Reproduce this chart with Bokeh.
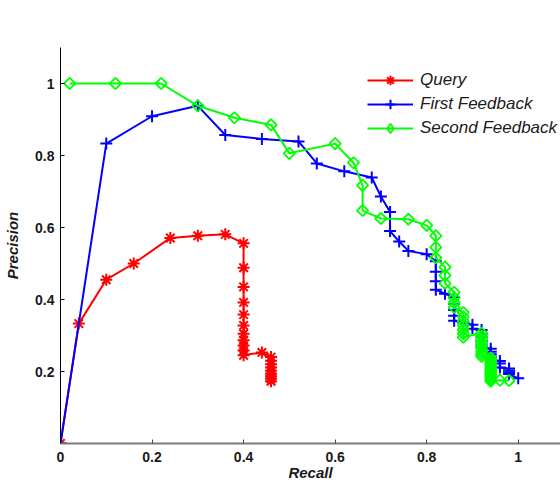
import math
from bokeh.plotting import figure
from bokeh.models import FixedTicker, Legend, LegendItem, CustomJSTickFormatter
from bokeh.embed import file_html
from bokeh.resources import INLINE

# ---- data ----
query_recall = [0, 0.04, 0.10, 0.16, 0.24, 0.30, 0.36, 0.40,
                0.40, 0.40, 0.40, 0.40, 0.40, 0.40, 0.40, 0.40, 0.40, 0.40,
                0.44,
                0.46, 0.46, 0.46, 0.46, 0.46, 0.46, 0.46, 0.46, 0.46]
query_precision = [0, 0.333, 0.455, 0.500, 0.571, 0.577, 0.581, 0.556,
                   0.488, 0.435, 0.392, 0.358, 0.328, 0.305, 0.287, 0.272, 0.258, 0.245,
                   0.253,
                   0.240, 0.230, 0.220, 0.211, 0.202, 0.194, 0.187, 0.180, 0.173]

first_recall = [0, 0.10, 0.20, 0.30, 0.36, 0.44, 0.52, 0.56, 0.62, 0.68, 0.70, 0.72, 0.72,
                0.74, 0.76, 0.80, 0.82, 0.82, 0.82, 0.82, 0.84, 0.86, 0.86, 0.86, 0.86, 0.86,
                0.88, 0.90, 0.90, 0.92, 0.92, 0.92, 0.92, 0.92, 0.92, 0.94, 0.94, 0.94, 0.94,
                0.94, 0.96, 0.96, 0.96, 0.98, 0.98, 0.98, 0.98, 1.00]
first_precision = [0, 0.833, 0.909, 0.938, 0.857, 0.846, 0.839, 0.778, 0.756, 0.739, 0.686, 0.643, 0.590,
                   0.561, 0.535, 0.526, 0.506, 0.477, 0.451, 0.427, 0.416, 0.406, 0.388, 0.371, 0.355, 0.341,
                   0.336, 0.330, 0.319, 0.315, 0.305, 0.295, 0.285, 0.276, 0.268, 0.263, 0.255, 0.248, 0.241,
                   0.234, 0.229, 0.222, 0.211, 0.208, 0.203, 0.198, 0.193, 0.181]

second_recall = [0.02, 0.12, 0.22, 0.30, 0.38, 0.46, 0.50, 0.60, 0.64, 0.66, 0.66, 0.70, 0.76, 0.80,
                 0.82, 0.82, 0.82, 0.84, 0.84, 0.84, 0.86, 0.86, 0.86, 0.86,
                 0.88, 0.88, 0.88, 0.88, 0.88, 0.88, 0.88,
                 0.92, 0.92, 0.92, 0.92, 0.92, 0.92, 0.92, 0.92, 0.92,
                 0.94, 0.94, 0.94, 0.94, 0.94, 0.94, 0.94, 0.94, 0.94, 0.94, 0.94, 0.94, 0.94,
                 0.96, 0.98]
second_precision = [1.0, 1.0, 1.0, 0.938, 0.905, 0.885, 0.806, 0.833, 0.780, 0.717, 0.647, 0.625, 0.623, 0.606,
                    0.577, 0.545, 0.516, 0.490, 0.467, 0.445, 0.420, 0.405, 0.391, 0.378,
                    0.364, 0.352, 0.340, 0.328, 0.316, 0.305, 0.295,
                    0.307, 0.298, 0.289, 0.280, 0.272, 0.264, 0.256, 0.249, 0.242,
                    0.238, 0.232, 0.226, 0.220, 0.214, 0.208, 0.203, 0.198, 0.193, 0.188, 0.183, 0.178, 0.173,
                    0.176, 0.175]

series_names = ["Query", "First Feedback", "Second Feedback"]
x_ticks = [0, 0.2, 0.4, 0.6, 0.8, 1]
y_ticks = [0.2, 0.4, 0.6, 0.8, 1]

FONT = "Liberation Sans"

p = figure(width=560, height=483, output_backend="svg", toolbar_location=None,
           x_range=(0, 1.0924), y_range=(0, 1.1),
           min_border_left=60, min_border_right=0, min_border_top=47, min_border_bottom=38)
p.outline_line_color = None
p.grid.visible = False
p.background_fill_color = "white"
p.border_fill_color = "white"

p.xaxis.ticker = FixedTicker(ticks=x_ticks)
p.yaxis.ticker = FixedTicker(ticks=y_ticks)
p.xaxis.formatter = CustomJSTickFormatter(code="return tick.toString()")
p.yaxis.formatter = CustomJSTickFormatter(code="return tick.toString()")

for ax in (p.xaxis[0], p.yaxis[0]):
    ax.major_tick_in = 4
    ax.major_tick_out = 0
    ax.minor_tick_line_color = None
    ax.major_label_text_font = FONT
    ax.major_label_text_font_style = "bold"
    ax.major_label_text_font_size = "14px"
    ax.major_label_text_color = "#1a1a1a"
    ax.axis_label_text_font = FONT
    ax.axis_label_text_font_style = "bold italic"
    ax.axis_label_text_font_size = "15px"
    ax.axis_label_text_color = "#1a1a1a"

p.yaxis.axis_line_color = "black"
p.yaxis.major_tick_line_color = "black"
p.yaxis.major_label_standoff = 6
p.yaxis.axis_label = "Precision"
p.yaxis.axis_label_standoff = 11

p.xaxis.axis_line_color = "#7a7a7a"
p.xaxis.axis_line_width = 2
p.xaxis.major_tick_line_color = "#444444"
p.xaxis.major_label_standoff = 8
p.xaxis.axis_label = "Recall"
p.xaxis.axis_label_standoff = -1

items = []

l1 = p.line(query_recall, query_precision, line_color="#ff0000", line_width=2)
m1 = p.scatter(query_recall, query_precision, marker="asterisk", size=12,
               line_color="#ff0000", line_width=2)
items.append(LegendItem(label=series_names[0], renderers=[l1, m1]))

l2 = p.line(first_recall, first_precision, line_color="#0000ff", line_width=2)
m2 = p.scatter(first_recall, first_precision, marker="cross", size=12,
               line_color="#0000ff", line_width=2)
items.append(LegendItem(label=series_names[1], renderers=[l2, m2]))

l3 = p.line(second_recall, second_precision, line_color="#00ff00", line_width=2)
m3 = p.scatter(second_recall, second_precision, marker="square", size=8, angle=math.pi / 4,
               line_color="#00ff00", fill_color=None, line_width=1.8)
# legend proxy: a diamond key (zero size on the plot itself)
k3 = p.scatter(second_recall[:1], second_precision[:1], marker="diamond", size=0,
               line_color="#00ff00", fill_color=None, line_width=1.8)
items.append(LegendItem(label=series_names[2], renderers=[l3, k3]))

legend = Legend(items=items, location=(307, 303),
                border_line_color=None, background_fill_alpha=0,
                padding=0, margin=0, spacing=0,
                glyph_width=46, glyph_height=24, label_height=20,
                label_standoff=7,
                label_text_font=FONT, label_text_font_style="italic",
                label_text_font_size="17px", label_text_color="#1a1a1a")
p.add_layout(legend)

open("out.html", "w").write(file_html(p, INLINE))
